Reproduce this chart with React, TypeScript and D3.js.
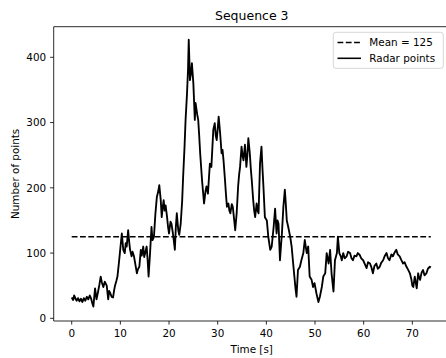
import React from "react";
import * as d3 from "d3";

const times: number[] = [
  0.0, 0.3, 0.5, 0.8, 1.0, 1.3, 1.6, 1.9, 2.2, 2.5, 2.8, 3.1, 3.4, 3.7, 4.0, 4.2, 4.45, 4.6, 4.8, 5.1,
  5.4, 5.7, 5.96, 6.2, 6.5, 6.8, 7.2, 7.5, 7.7, 7.9, 8.2, 8.5, 8.7, 8.9, 9.2, 9.4, 9.7, 9.9, 10.1, 10.3,
  10.6, 10.9, 11.1, 11.3, 11.6, 11.8, 12.0, 12.3, 12.5, 12.8, 13.1, 13.4, 13.6, 13.9, 14.2, 14.4, 14.7, 14.9, 15.1, 15.4,
  15.6, 15.8, 16.1, 16.4, 16.6, 16.9, 17.2, 17.5, 17.8, 18.0, 18.3, 18.5, 18.7, 18.9, 19.1, 19.3, 19.6, 19.8, 20.0, 20.3,
  20.5, 20.8, 21.0, 21.2, 21.4, 21.6, 21.9, 22.1, 22.4, 22.7, 22.9, 23.2, 23.4, 23.7, 23.9, 24.05, 24.3, 24.5, 24.7, 25.0,
  25.3, 25.45, 25.6, 25.8, 26.0, 26.2, 26.4, 26.8, 27.2, 27.5, 27.7, 28.0, 28.2, 28.4, 28.7, 28.9, 29.1, 29.4, 29.6, 29.8,
  30.0, 30.2, 30.5, 30.8, 31.0, 31.2, 31.5, 31.7, 31.9, 32.2, 32.4, 32.6, 32.9, 33.1, 33.4, 33.6, 33.9, 34.2, 34.4, 34.6,
  34.9, 35.1, 35.3, 35.6, 35.9, 36.1, 36.3, 36.6, 36.8, 37.0, 37.3, 37.5, 37.7, 38.0, 38.2, 38.4, 38.7, 39.0, 39.2, 39.4,
  39.7, 40.1, 40.4, 40.8, 41.1, 41.3, 41.5, 41.8, 42.1, 42.3, 42.5, 42.8, 43.0, 43.2, 43.5, 43.8, 44.0, 44.2, 44.5, 44.9,
  45.2, 45.5, 45.7, 46.0, 46.2, 46.5, 46.9, 47.2, 47.6, 47.9, 48.1, 48.3, 48.6, 48.9, 49.3, 49.6, 49.9, 50.3, 50.7, 51.0,
  51.4, 51.7, 52.1, 52.4, 52.8, 53.1, 53.4, 53.8, 54.1, 54.5, 54.7, 55.0, 55.3, 55.5, 55.8, 56.1, 56.5, 56.8, 57.2, 57.5,
  57.8, 58.1, 58.5, 58.8, 59.2, 59.5, 59.9, 60.2, 60.6, 60.9, 61.3, 61.6, 61.9, 62.2, 62.6, 62.9, 63.3, 63.6, 64.0, 64.3,
  64.7, 65.0, 65.3, 65.7, 66.0, 66.3, 66.7, 67.0, 67.4, 67.7, 68.1, 68.4, 68.8, 69.1, 69.5, 69.8, 70.0, 70.2, 70.5, 70.7,
  70.9, 71.2, 71.4, 71.6, 71.9, 72.2, 72.5, 72.9, 73.2, 73.6, 73.8,
];

const points: number[] = [
  32, 28, 35, 30, 27, 31, 26, 30, 25, 31, 27, 33, 29, 35, 30, 24, 18, 30, 46, 29,
  40, 52, 64, 55, 48, 56, 50, 29, 42, 39, 33, 32, 42, 50, 58, 64, 85, 100, 115, 130,
  105, 100, 115, 110, 135, 118, 105, 95, 102, 95, 82, 69, 75, 79, 105, 96, 110, 94, 100, 110,
  90, 64, 100, 140, 120, 125, 160, 186, 195, 204, 181, 155, 170, 181, 165, 173, 155, 140, 130, 148,
  145, 130, 118, 105, 140, 161, 135, 128, 145, 180, 217, 265, 304, 345, 380, 427, 365, 375, 391, 360,
  304, 330, 322, 312, 304, 280, 253, 210, 176, 195, 202, 191, 215, 237, 232, 260, 289, 299, 280, 273,
  290, 309, 284, 253, 258, 242, 212, 190, 171, 176, 165, 161, 175, 171, 150, 135, 161, 202, 220, 232,
  263, 250, 242, 266, 232, 250, 276, 253, 230, 212, 181, 165, 155, 176, 165, 161, 237, 263, 230, 202,
  155, 150, 125, 105, 110, 125, 140, 168, 130, 150, 145, 89, 110, 130, 171, 197, 175, 150, 140, 125,
  110, 85, 69, 45, 33, 74, 79, 89, 100, 120, 110, 100, 110, 64, 59, 48, 54, 38, 25, 33,
  48, 64, 69, 100, 84, 105, 69, 41, 89, 100, 125, 100, 95, 89, 100, 92, 95, 102, 100, 92,
  89, 96, 95, 100, 97, 92, 89, 84, 77, 86, 84, 78, 69, 80, 84, 76, 79, 85, 89, 95,
  100, 92, 89, 98, 95, 100, 105, 98, 95, 90, 84, 86, 79, 75, 69, 60, 50, 48, 64, 55,
  46, 69, 62, 59, 70, 74, 66, 69, 76, 79, 78,
];

const meanValue = 125;
const meanSpan: number[] = [0, 73.8];
const xTicks: number[] = [0, 10, 20, 30, 40, 50, 60, 70];
const yTicks: number[] = [0, 100, 200, 300, 400];
const legendLabels: string[] = ["Mean = 125", "Radar points"];

const W = 446;
const H = 358;
const FONT = "DejaVu Sans, sans-serif";

export default function App() {
  const x = d3.scaleLinear().domain([-3.7, 77.7]).range([53.7, 449.8]);
  const y = d3.scaleLinear().domain([-4.1, 446.9]).range([321, 26.7]);
  const left = 53.7;
  const right = 449.8;
  const top = 26.7;
  const bottom = 321;

  const data = times.map((t, i) => [t, points[i]] as [number, number]);
  const line = d3
    .line<[number, number]>()
    .x((d) => x(d[0]))
    .y((d) => y(d[1]));

  const lw = 1.56;

  return (
    <svg
      width={W}
      height={H}
      style={{ position: "absolute", left: 0, top: 0, background: "#fff" }}
      fontFamily={FONT}
    >
      <rect x={0} y={0} width={W} height={H} fill="#fff" />
      <line
        x1={x(meanSpan[0])}
        x2={x(meanSpan[1])}
        y1={y(meanValue)}
        y2={y(meanValue)}
        stroke="#000"
        strokeWidth={lw}
        strokeDasharray="5.8,2.5"
      />
      <path
        d={line(data) || ""}
        fill="none"
        stroke="#000"
        strokeWidth={1.85}
        strokeLinejoin="round"
      />
      <line x1={left} x2={left} y1={top} y2={bottom} stroke="#000" strokeWidth={0.83} />
      <line x1={left} x2={right} y1={bottom} y2={bottom} stroke="#000" strokeWidth={0.83} />
      <line x1={left} x2={right} y1={top} y2={top} stroke="#000" strokeWidth={0.83} />
      {xTicks.map((t) => (
        <g key={"x" + t}>
          <line x1={x(t)} x2={x(t)} y1={bottom} y2={bottom + 3.6} stroke="#000" strokeWidth={0.83} />
          <text x={x(t)} y={bottom + 15.5} fontSize={10.4} textAnchor="middle" fill="#000">
            {t}
          </text>
        </g>
      ))}
      {yTicks.map((t) => (
        <g key={"y" + t}>
          <line x1={left - 3.6} x2={left} y1={y(t)} y2={y(t)} stroke="#000" strokeWidth={0.83} />
          <text x={left - 7.5} y={y(t) + 3.8} fontSize={10.4} textAnchor="end" fill="#000">
            {t}
          </text>
        </g>
      ))}
      <text x={(left + right) / 2} y={353} fontSize={10.4} textAnchor="middle" fill="#000">
        Time [s]
      </text>
      <text
        transform={`translate(19,${(top + bottom) / 2}) rotate(-90)`}
        fontSize={10.4}
        textAnchor="middle"
        fill="#000"
      >
        Number of points
      </text>
      <text x={(left + right) / 2} y={top - 7} fontSize={12.5} textAnchor="middle" fill="#000">
        Sequence 3
      </text>
      <g>
        <rect
          x={333.3}
          y={32.3}
          width={110}
          height={36}
          rx={2.5}
          fill="#fff"
          fillOpacity={0.8}
          stroke="#ccc"
          strokeWidth={0.83}
        />
        <line x1={337.5} x2={361} y1={42.5} y2={42.5} stroke="#000" strokeWidth={lw} strokeDasharray="5.8,2.5" />
        <text x={369.3} y={46.3} fontSize={10.4} fill="#000">
          {legendLabels[0]}
        </text>
        <line x1={337.5} x2={361} y1={58.3} y2={58.3} stroke="#000" strokeWidth={lw} />
        <text x={369.3} y={62.1} fontSize={10.4} fill="#000">
          {legendLabels[1]}
        </text>
      </g>
    </svg>
  );
}
